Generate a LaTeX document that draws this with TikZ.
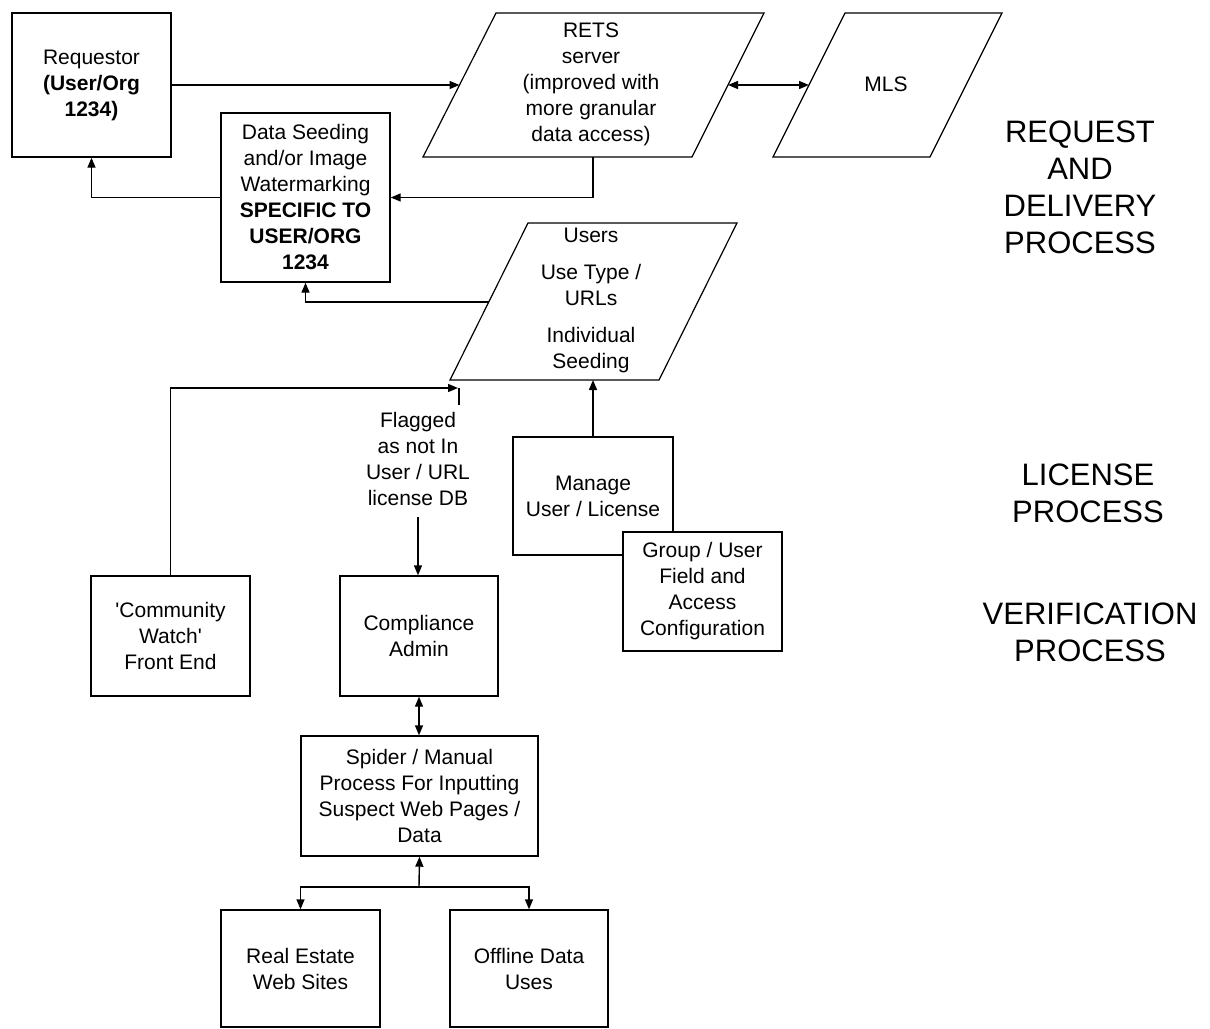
\documentclass[tikz,border=0pt]{standalone}
\usepackage{fontspec}
\setmainfont{Liberation Sans}
\usetikzlibrary{arrows.meta}
\begin{document}
\begin{tikzpicture}[x=1pt,y=-1pt,
  box/.style={draw, fill=white, line width=1.4pt, inner sep=0pt, align=center,
    font=\fontsize{21}{26}\selectfont},
  para/.style={draw, fill=white, line width=1.2pt},
  txt/.style={inner sep=0pt, align=center, font=\fontsize{21}{26}\selectfont},
  head/.style={inner sep=0pt, align=center, font=\fontsize{31}{37}\selectfont},
  conn/.style={line width=1.4pt},
  arr/.style={conn, -{Triangle[length=10pt,width=8pt]}},
  darr/.style={conn, {Triangle[length=10pt,width=8pt]}-{Triangle[length=10pt,width=8pt]}}]
\useasboundingbox (0,0) rectangle (1210,1028);
\fill[white] (0,0) rectangle (1210,1028);

% parallelograms
\draw[para] (496,13) -- (764,13) -- (692,157) -- (423,157) -- cycle;
\node[txt] (rets) at (591,84) {RETS\\server\\(improved with\\more granular\\data access)};
\draw[para] (845,13) -- (1002,13) -- (930,157) -- (773,157) -- cycle;
\node[txt] (mls) at (886,84) {MLS};
\draw[para] (528,223) -- (737,223) -- (659,380) -- (450,380) -- cycle;
\node[txt] (users) at (591,300) {Users\\[11pt]Use Type /\\URLs\\[11pt]Individual\\Seeding};

\coordinate (retsL) at (459.5,85);
\coordinate (retsR) at (728,85);
\coordinate (retsB) at (593,157);
\coordinate (mlsL) at (809,85);
\coordinate (usersL) at (489,302);
\coordinate (usersB) at (593,380);
\coordinate (flagtip) at (458,388);
\coordinate (flagstub) at (459,405);
\coordinate (flagB) at (418,517);
\coordinate (junc) at (419,887);

% boxes
\node[box, minimum width=159pt, minimum height=144pt] (req) at (91.5,85)
  {Requestor\\\textbf{(User/Org}\\\textbf{1234)}};
\node[box, minimum width=169pt, minimum height=169pt] (ds) at (305.5,197.5)
  {Data Seeding\\and/or Image\\Watermarking\\\textbf{SPECIFIC TO}\\\textbf{USER/ORG}\\\textbf{1234}};
\node[box, minimum width=160pt, minimum height=118pt] (man) at (593,496)
  {Manage\\User / License};
\node[box, minimum width=159pt, minimum height=119pt] (grp) at (702.5,591.5)
  {Group / User\\Field and\\Access\\Configuration};
\node[box, minimum width=159pt, minimum height=120pt] (cw) at (170.5,636)
  {\textquotesingle Community\\Watch\textquotesingle\\Front End};
\node[box, minimum width=158pt, minimum height=120pt] (comp) at (419,636)
  {Compliance\\Admin};
\node[box, minimum width=237pt, minimum height=120pt] (spi) at (419.5,796)
  {Spider / Manual\\Process For Inputting\\Suspect Web Pages /\\Data};
\node[box, minimum width=159pt, minimum height=117pt] (re) at (300.5,968.5)
  {Real Estate\\Web Sites};
\node[box, minimum width=158pt, minimum height=117pt] (off) at (529,968.5)
  {Offline Data\\Uses};

\node[txt] (flag) at (418,459) {Flagged\\as not In\\User / URL\\license DB};

% headings
\node[head] (h1) at (1080,187) {REQUEST\\AND\\DELIVERY\\PROCESS};
\node[head] (h2) at (1088,493) {LICENSE\\PROCESS};
\node[head] (h3) at (1090,632) {VERIFICATION\\PROCESS};

% connectors
\draw[arr] (req.east) -- (retsL);
\draw[darr] (retsR) -- (mlsL);
\draw[arr] (retsB) |- (ds.east);
\draw[arr] (ds.west) -| (req.south);
\draw[arr] (usersL) -| (ds.south);
\draw[arr] (cw.north) |- (flagtip);
\draw[conn] (flagstub) -- (flagstub |- flagtip);
\draw[arr] (flagB) -- (flagB |- comp.north);
\draw[arr] (man.north) -- (usersB);
\draw[darr] (comp.south) -- (comp.south |- spi.north);
\draw[arr] (junc) -- (spi.south);
\draw[arr] (junc) -| (re.north);
\draw[arr] (junc) -| (off.north);
\end{tikzpicture}
\end{document}
